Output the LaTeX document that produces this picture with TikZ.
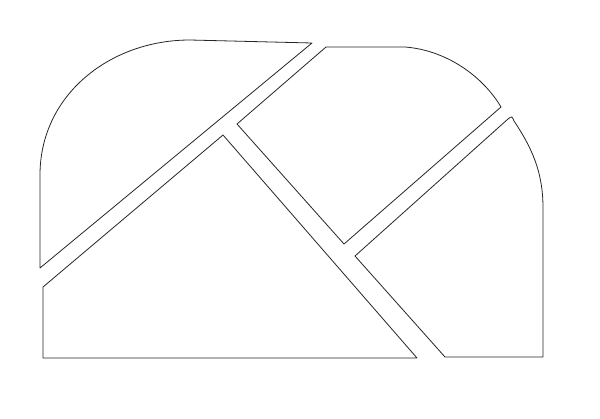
\documentclass[tikz,border=0pt]{standalone}
\begin{document}
\begin{tikzpicture}[x=1pt,y=-1pt,
  piece/.style={draw=black!85,line width=0.8pt,line join=round}]
\useasboundingbox[fill=white] (0,0) rectangle (600,418);
% top-left rounded piece
\draw[piece] (40,268) -- (40,175) .. controls (40,95) and (110,40) .. (190,40)
  -- (312,43) -- cycle;
% bottom-left triangle
\draw[piece] (43,287) -- (223,135) -- (417,358) -- (43,358) -- cycle;
% middle piece
\draw[piece] (237,124) -- (326,47) -- (405,47)
  .. controls (445,50) and (482,75) .. (501,107) -- (344,244) -- cycle;
% right piece
\draw[piece] (355,256) -- (508,119) .. controls (512,116) .. (514,121)
  .. controls (532,148) and (543,172) .. (543,208) -- (543,357)
  -- (445,357) -- cycle;
\end{tikzpicture}
\end{document}
